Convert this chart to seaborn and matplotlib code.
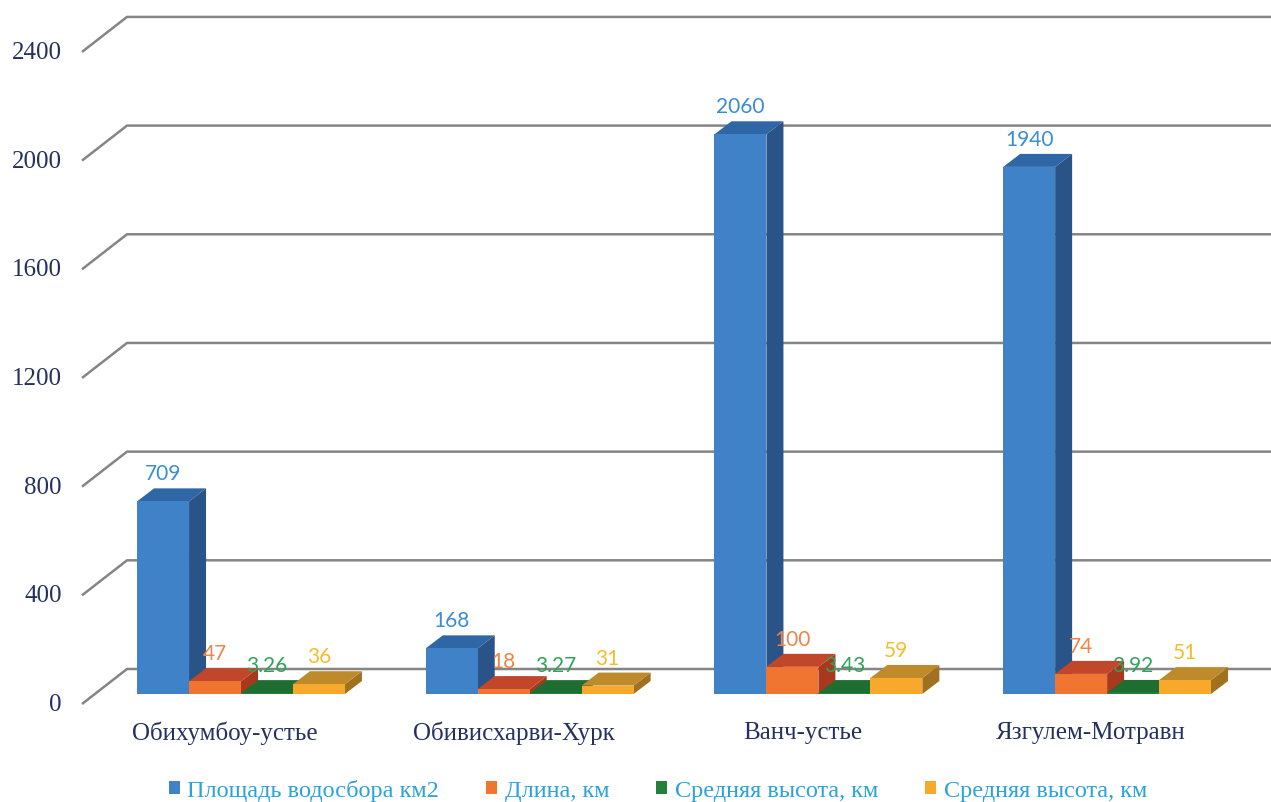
import numpy as np
import pandas as pd
import matplotlib
matplotlib.use("Agg")
import matplotlib.pyplot as plt
from matplotlib.patches import Polygon
import seaborn as sns

# --- data -------------------------------------------------------------
categories = ["Обихумбоу-устье", "Обивисхарви-Хурк", "Ванч-устье", "Язгулем-Мотравн"]
series_names = ["Площадь водосбора км2", "Длина, км", "Средняя высота, км", "Средняя высота, км "]
area = [709, 168, 2060, 1940]
length = [47, 18, 100, 74]
height_a = [3.26, 3.27, 3.43, 3.92]
height_b = [36, 31, 59, 51]
y_ticks = [0, 400, 800, 1200, 1600, 2000, 2400]

# --- styling ----------------------------------------------------------
front_colors = ["#4082C8", "#EF7530", "#24813A", "#F8A92C"]
top_colors = ["#2F66A6", "#C2462A", "#1F6E31", "#BE8A2A"]
side_colors = ["#2A5488", "#A8391F", "#185A27", "#A0711F"]
label_colors = ["#3A8CD6", "#F08446", "#2FA35C", "#F2BE2E"]
navy = "#243160"

sns.set_theme(style="white")
plt.rcParams["font.family"] = ["Liberation Serif", "DejaVu Sans"]

W, H, DPI = 1271, 803, 100
fig = plt.figure(figsize=(W / DPI, H / DPI), dpi=DPI)
ax = fig.add_axes([0, 0, 1, 1])

# pixel-based layout of the floor / bar plane
x_first_px = 241.0       # centre of first category's bar group
x_step_px = 288.7        # distance between categories
y_zero_px = 695.0        # bar base line (from top)
px_per_unit = 0.2717     # vertical pixels per value unit

xlim = (-x_first_px / x_step_px, (W - x_first_px) / x_step_px)
ylim = (-(H - y_zero_px) / px_per_unit, y_zero_px / px_per_unit)
DX = 1.0 / x_step_px     # data units per pixel (x)
DY = 1.0 / px_per_unit   # data units per pixel (y)

df = pd.DataFrame({
    "Участок": categories * 4,
    "Показатель": np.repeat(series_names, len(categories)),
    "Значение": area + length + height_a + height_b,
})

sns.barplot(data=df, x="Участок", y="Значение", hue="Показатель",
            palette=front_colors, width=0.72, gap=0, dodge=True,
            errorbar=None, saturation=1, linewidth=0, ax=ax)

ax.set_xlim(*xlim)
ax.set_ylim(*ylim)
ax.set_axis_off()

# --- walls: slanted grid lines ---------------------------------------
wall_front_x = (82 - x_first_px) * DX
wall_back_x = (127 - x_first_px) * DX
right_x = xlim[1]
front_drop = 10 * DY     # front edge sits below bar plane
back_rise = 25 * DY      # back wall sits above bar plane
for v in y_ticks:
    ax.plot([wall_front_x, wall_back_x, right_x],
            [v - front_drop, v + back_rise, v + back_rise],
            color="#858585", lw=1.8, zorder=1, solid_capstyle="butt")
    ax.text((62 - x_first_px) * DX, v - front_drop, f"{v}",
            ha="right", va="center", fontsize=18, color=navy, zorder=50)

# --- 3D faces for each bar -------------------------------------------
depth_dx = 17 * DX
depth_dy = 13 * DY
for s, cont in enumerate(ax.containers):
    for i, bar in enumerate(cont.patches):
        k = i * 4 + s
        x0, w, h = bar.get_x(), bar.get_width(), bar.get_height()
        side = Polygon([(x0 + w, 0), (x0 + w + depth_dx, depth_dy),
                        (x0 + w + depth_dx, h + depth_dy), (x0 + w, h)],
                       closed=True, facecolor=side_colors[s], lw=0,
                       zorder=2 + 3 * k)
        top = Polygon([(x0, h), (x0 + depth_dx, h + depth_dy),
                       (x0 + w + depth_dx, h + depth_dy), (x0 + w, h)],
                      closed=True, facecolor=top_colors[s], lw=0,
                      zorder=3 + 3 * k)
        ax.add_patch(side)
        ax.add_patch(top)
        bar.set_zorder(4 + 3 * k)
        ax.text(x0 + w / 2, h + 28 * DY, f"{h:g}", ha="center", va="center",
                fontsize=15, family=["Lato", "DejaVu Sans"],
                color=label_colors[s], zorder=200)

# --- category labels --------------------------------------------------
for i, name in enumerate(categories):
    ax.text(i - 16 * DX, -(733 - y_zero_px) * DY, name, ha="center",
            va="center", fontsize=18, color=navy, zorder=50)

# --- legend -----------------------------------------------------------
sns.move_legend(ax, "center", bbox_to_anchor=(0.52, 1 - 791 / H), ncol=4,
                frameon=False, title=None, fontsize=17.5, handlelength=0.45,
                handleheight=0.45, handletextpad=0.3, columnspacing=1.95)
leg = ax.get_legend()
for t in leg.get_texts():
    t.set_color("#2AA3DA")

fig.savefig("out.png", dpi=DPI)
